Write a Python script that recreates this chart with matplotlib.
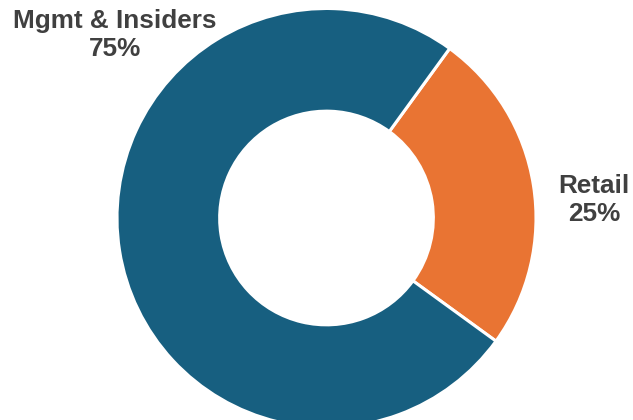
import matplotlib
matplotlib.use("Agg")
import matplotlib.pyplot as plt

categories = ["Retail", "Mgmt & Insiders"]
values = [25, 75]
colors = ["#E97433", "#175F80"]

fig = plt.figure(figsize=(6.33, 4.2), dpi=100)
ax = fig.add_axes([0, 0, 1, 1])
ax.set_xlim(0, 633)
ax.set_ylim(0, 420)
ax.set_aspect("equal")
ax.axis("off")

cx, cy, R = 326.5, 202, 209.5
wedges, _ = ax.pie(values, colors=colors, startangle=54, counterclock=False,
                   center=(cx, cy), radius=R,
                   wedgeprops=dict(width=R * 0.49, edgecolor="white", linewidth=2.2))
ax.set_xlim(0, 633)
ax.set_ylim(0, 420)

label_pos = {"Retail": (594, 220), "Mgmt & Insiders": (115, 385)}
for c, v in zip(categories, values):
    x, y = label_pos[c]
    ax.text(x, y, f"{c}\n{v}%", ha="center", va="center", fontsize=18.8,
            fontweight="bold", color="#404040", family="Liberation Sans",
            linespacing=1.2)

fig.savefig("out.png", dpi=100)
